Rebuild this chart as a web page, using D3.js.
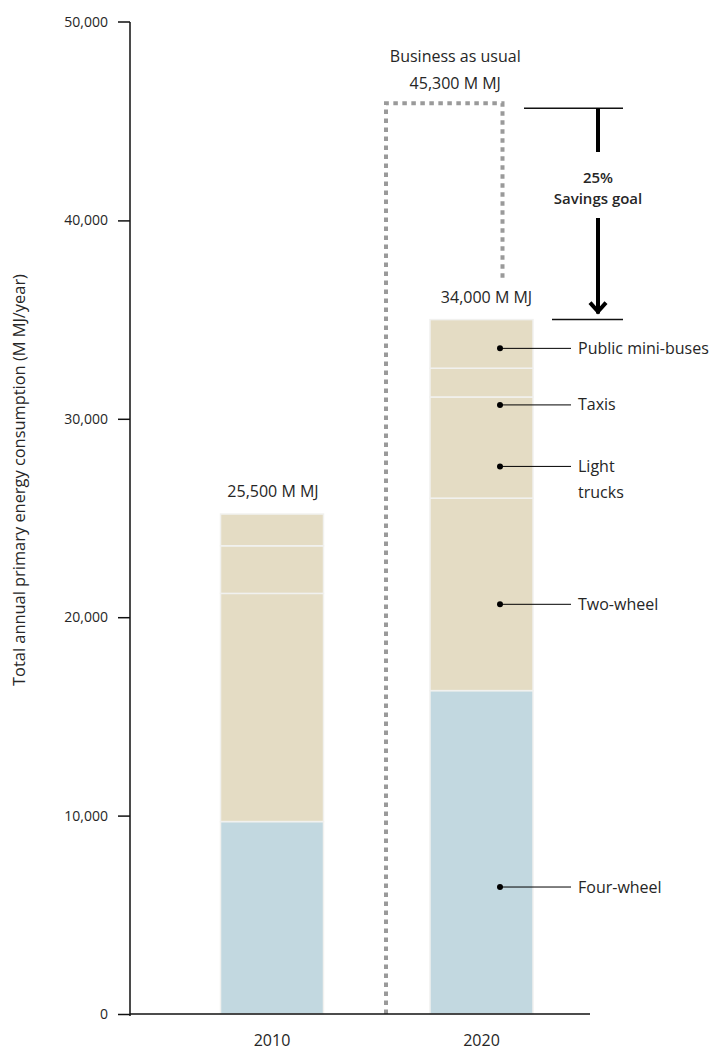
<!DOCTYPE html>
<html>
<head>
<meta charset="utf-8">
<script src="https://cdn.jsdelivr.net/npm/d3@7"></script>
<style>
  body { margin: 0; background: #fff; }
  svg { display: block; }
  text { font-family: "Open Sans", "Noto Sans", sans-serif; fill: #262626; }
</style>
</head>
<body>
<svg id="chart" width="716" height="1051"></svg>
<script>
// ---- data ----
const years = ["2010", "2020"];
const categories = ["Four-wheel", "Two-wheel", "Light trucks", "Taxis", "Public mini-buses"];
const values2010 = [9700, 11500, 2400, 1600, 0];
const values2020 = [16300, 9700, 5100, 1450, 2450];
const totalLabels = ["25,500 M MJ", "34,000 M MJ"];
const bauValue = 45900;
const bauLabel = ["Business as usual", "45,300 M MJ"];
const savingsTop = 45650;
const savingsLabel = ["25%", "Savings goal"];
const yTicks = [0, 10000, 20000, 30000, 40000, 50000];
const labelLines = [["Public mini-buses"], ["Taxis"], ["Light", "trucks"], ["Two-wheel"], ["Four-wheel"]];
const labelValues = [33550, 30700, 27600, 20650, 6400];

const seriesByYear = { "2010": values2010, "2020": values2020 };

const svg = d3.select("#chart");
const beige = "#e4dcc4", blue = "#c2d8e0";
const FS = "16px";

const y = d3.scaleLinear().domain([0, 50000]).range([1014, 22]);
const x = d3.scalePoint().domain(years).range([272, 481.5]);
const barW = 103;

// stacking
const rows = years.map(yr => {
  const o = { year: yr };
  categories.forEach((c, i) => o[c] = seriesByYear[yr][i]);
  return o;
});
const stack = d3.stack().keys(categories)(rows);

// bars
const gBars = svg.append("g");
stack.forEach((layer, li) => {
  layer.forEach(seg => {
    if (seg[1] - seg[0] <= 0) return;
    gBars.append("rect")
      .attr("x", x(seg.data.year) - barW / 2)
      .attr("y", y(seg[1]))
      .attr("width", barW)
      .attr("height", y(seg[0]) - y(seg[1]))
      .attr("fill", li === 0 ? blue : beige)
      .attr("stroke", "#f1f1ef")
      .attr("stroke-width", 1.5);
  });
});

// BAU dotted outline
const bx0 = x("2010") + 114, bx1 = x("2020") + 21;
svg.append("path")
  .attr("d", `M${bx0},${y(0)} V${y(bauValue)} H${bx1} V${y(37000)}`)
  .attr("fill", "none")
  .attr("stroke", "#9a9a9a")
  .attr("stroke-width", 4)
  .attr("stroke-dasharray", "4.5,4.5");

// axes
const yAxis = d3.axisLeft(y).tickValues(yTicks).tickSize(12).tickFormat(d3.format(","));
const gy = svg.append("g").attr("transform", "translate(130,0)").call(yAxis);
gy.select(".domain").attr("d", `M0,${y(50000)}H-12M0,${y(50000)}V${y(0) + 2}`).attr("stroke", "#111").attr("stroke-width", 1.5);
gy.selectAll(".tick line").attr("stroke", "#111").attr("stroke-width", 1.5);
gy.selectAll(".tick text").attr("x", -22).style("font-size", "14px").attr("fill", "#262626");
gy.selectAll(".tick").filter(d => d === 50000).select("line").remove();

svg.append("line").attr("x1", 130).attr("x2", 590).attr("y1", y(0)).attr("y2", y(0))
  .attr("stroke", "#111").attr("stroke-width", 1.5);

years.forEach(yr => {
  svg.append("text").attr("x", x(yr)).attr("y", 1051 - 5).attr("text-anchor", "middle")
    .style("font-size", FS).text(yr);
});

// y title
svg.append("text")
  .attr("transform", `translate(25,${480}) rotate(-90)`)
  .attr("text-anchor", "middle")
  .style("font-size", "16.4px")
  .text("Total annual primary energy consumption (M MJ/year)");

// totals
years.forEach((yr, i) => {
  const tot = d3.sum(seriesByYear[yr]);
  svg.append("text").attr("x", x(yr) + (i ? 5 : 1)).attr("y", y(tot) - 17)
    .attr("text-anchor", "middle").style("font-size", FS).text(totalLabels[i]);
});

// BAU labels
svg.append("text").attr("x", (bx0 + bx1) / 2 + 11).attr("y", 62).attr("text-anchor", "middle")
  .style("font-size", FS).text(bauLabel[0]);
svg.append("text").attr("x", (bx0 + bx1) / 2 + 11).attr("y", 89).attr("text-anchor", "middle")
  .style("font-size", FS).text(bauLabel[1]);

// savings goal
const total2020 = d3.sum(values2020);
const ax = 598;
svg.append("line").attr("x1", 524).attr("x2", 623).attr("y1", y(savingsTop)).attr("y2", y(savingsTop)).attr("stroke", "#111").attr("stroke-width", 1.5);
svg.append("line").attr("x1", 552).attr("x2", 623).attr("y1", y(total2020)).attr("y2", y(total2020)).attr("stroke", "#111").attr("stroke-width", 1.5);
svg.append("line").attr("x1", ax).attr("x2", ax).attr("y1", y(savingsTop)).attr("y2", 152).attr("stroke", "#000").attr("stroke-width", 4);
svg.append("line").attr("x1", ax).attr("x2", ax).attr("y1", 218).attr("y2", y(total2020) - 6).attr("stroke", "#000").attr("stroke-width", 4);
svg.append("path").attr("d", `M${ax - 8},${y(total2020) - 17} L${ax},${y(total2020) - 8} L${ax + 8},${y(total2020) - 17}`)
  .attr("fill", "none").attr("stroke", "#000").attr("stroke-width", 4);
svg.append("text").attr("x", ax).attr("y", 183).attr("text-anchor", "middle")
  .style("font-size", "15px").style("font-weight", "600").text(savingsLabel[0]);
svg.append("text").attr("x", ax).attr("y", 204).attr("text-anchor", "middle")
  .style("font-size", "15px").style("font-weight", "600").text(savingsLabel[1]);

// callouts
labelLines.forEach((lines, i) => {
  const yy = y(labelValues[i]);
  svg.append("circle").attr("cx", x("2020") + 18.5).attr("cy", yy).attr("r", 3).attr("fill", "#000");
  svg.append("line").attr("x1", x("2020") + 18.5).attr("x2", 571).attr("y1", yy).attr("y2", yy).attr("stroke", "#000").attr("stroke-width", 1);
  lines.forEach((t, j) => {
    svg.append("text").attr("x", 578).attr("y", yy + 5.5 + j * 26).style("font-size", FS).text(t);
  });
});
</script>
</body>
</html>
